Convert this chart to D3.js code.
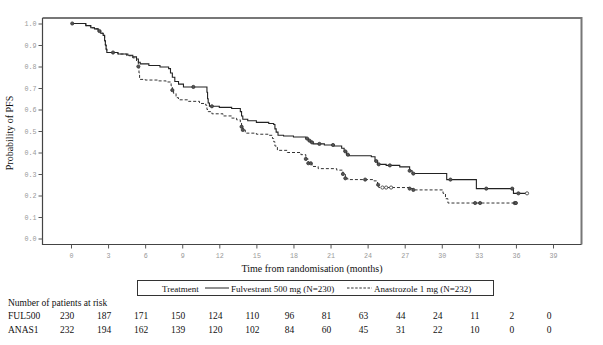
<!DOCTYPE html>
<html><head><meta charset="utf-8">
<script src="https://cdn.jsdelivr.net/npm/d3@7"></script>
<style>body{margin:0;background:#fff}svg{display:block}</style>
</head><body>
<svg id="c" width="603" height="345"></svg>
<script>
// ---- data ----
const months = d3.range(0, 40, 3);
const yTicks = d3.range(0, 1.01, 0.1);
const seriesNames = ["Fulvestrant 500 mg (N=230)", "Anastrozole 1 mg (N=232)"];
const riskLabels = ["FUL500", "ANAS1"];
const riskFUL = [230, 187, 171, 150, 124, 110, 96, 81, 63, 44, 24, 11, 2, 0];
const riskANA = [232, 194, 162, 139, 120, 102, 84, 60, 45, 31, 22, 10, 0, 0];
// KM steps: [time (months), survival after event]
const fulSteps = [[0,1],[1.2,0.99],[1.6,0.98],[1.9,0.975],[2.2,0.965],[2.4,0.955],[2.6,0.945],[2.72,0.92],[2.78,0.90],[2.84,0.88],[2.9,0.865],[3.8,0.858],[4.6,0.852],[5.0,0.845],[5.3,0.835],[5.45,0.82],[5.6,0.812],[6.3,0.805],[7.2,0.798],[7.9,0.79],[8.05,0.77],[8.2,0.75],[8.4,0.73],[8.7,0.718],[9.1,0.705],[11.0,0.68],[11.05,0.65],[11.1,0.63],[11.2,0.615],[12.0,0.61],[13.0,0.605],[13.7,0.59],[13.8,0.57],[13.9,0.555],[14.3,0.548],[15.0,0.54],[16.0,0.535],[16.4,0.53],[16.5,0.51],[16.6,0.495],[16.75,0.48],[17.2,0.477],[18.0,0.472],[19.0,0.465],[19.2,0.455],[19.4,0.447],[19.6,0.44],[20.5,0.435],[21.3,0.43],[21.9,0.42],[22.1,0.405],[22.3,0.39],[22.5,0.385],[24.3,0.38],[24.6,0.36],[24.8,0.345],[25.5,0.34],[26.6,0.333],[27.4,0.315],[27.6,0.302],[30.4,0.274],[32.8,0.232],[35.8,0.21]];
const fulEnd = 36.9;
const anaSteps = [[0,1],[1.2,0.99],[1.6,0.98],[1.9,0.975],[2.2,0.965],[2.4,0.955],[2.6,0.945],[2.72,0.92],[2.78,0.90],[2.84,0.88],[2.9,0.865],[3.8,0.858],[4.5,0.85],[5.0,0.84],[5.3,0.825],[5.45,0.80],[5.5,0.77],[5.55,0.74],[6.0,0.737],[7.0,0.733],[7.7,0.728],[8.1,0.71],[8.2,0.69],[8.3,0.675],[8.5,0.655],[8.7,0.645],[9.5,0.638],[10.4,0.628],[10.9,0.62],[11.0,0.60],[11.1,0.59],[11.4,0.58],[12.3,0.57],[13.0,0.56],[13.4,0.552],[13.7,0.54],[13.8,0.52],[13.9,0.505],[14.1,0.49],[15.0,0.485],[16.0,0.48],[16.3,0.465],[16.4,0.45],[16.5,0.43],[16.7,0.41],[17.5,0.40],[18.6,0.39],[19.0,0.37],[19.2,0.35],[19.5,0.335],[20.0,0.325],[21.5,0.318],[22.0,0.30],[22.2,0.28],[22.4,0.274],[24.5,0.268],[24.8,0.25],[24.9,0.237],[27.4,0.232],[27.7,0.226],[30.1,0.21],[30.3,0.185],[30.5,0.165]];
const anaEnd = 36.05;
// censor times
const fulCensor = [0.1, 2.3, 3.4, 9.9, 11.4, 19.1, 19.3, 19.5, 20.1, 21.2, 22.2, 22.4, 24.7, 24.9, 25.8, 27.4, 27.7, 30.7, 33.6, 35.7, 36.2];
const fulCensorOpen = [36.9];
const anaCensor = [5.45, 8.2, 13.8, 13.9, 19.0, 19.2, 19.4, 22.0, 22.2, 23.8, 24.85, 27.4, 27.7, 32.7, 33.1, 35.9, 36.0];
const anaCensorOpen = [25.2, 25.5, 25.9];

// ---- layout ----
const svg = d3.select("#c");
const L = 42.5, R = 581.5, T = 18, B = 244.5;
const x = d3.scaleLinear().domain([0, 39]).range([71, 553]);
const y = d3.scaleLinear().domain([0, 1]).range([238.5, 23.5]);
const serif = "'Liberation Serif','Times New Roman',serif";
const mono = "'Liberation Mono','DejaVu Sans Mono',monospace";

// frame
svg.append("path").attr("d", `M${L},${T}H${R}V${B}`).attr("fill","none").attr("stroke","#777").attr("stroke-width",2);
svg.append("path").attr("d", `M${L},${T}V${B}H${R}`).attr("fill","none").attr("stroke","#444").attr("stroke-width",1.2);

// y axis
const ya = svg.append("g").attr("transform", `translate(${L},0)`)
  .call(d3.axisLeft(y).tickValues(yTicks).tickFormat(d3.format(".1f")).tickSize(4).tickSizeOuter(0));
ya.select(".domain").remove();
ya.selectAll("line").attr("stroke","#555");
ya.selectAll("text").attr("font-family", mono).attr("font-size", 6.7).attr("fill","#999").attr("x",-6);

// x axis
const xa = svg.append("g").attr("transform", `translate(0,${B})`)
  .call(d3.axisBottom(x).tickValues(months).tickSize(4).tickSizeOuter(0));
xa.select(".domain").remove();
xa.selectAll("line").attr("stroke","#555");
xa.selectAll("text").attr("font-family", mono).attr("font-size", 6.7).attr("fill","#999").attr("y", 9);

// titles
svg.append("text").attr("x", 312).attr("y", 272).attr("text-anchor","middle")
  .attr("font-family", serif).attr("font-size", 10).attr("fill","#111").text("Time from randomisation (months)");
svg.append("text").attr("transform","translate(13,133) rotate(-90)").attr("text-anchor","middle")
  .attr("font-family", serif).attr("font-size", 10).attr("fill","#111").text("Probability of PFS");

// curves
function stepVal(steps, t){ let v = steps[0][1]; for (const s of steps){ if (s[0] <= t) v = s[1]; } return v; }
const line = d3.line().x(d => x(d[0])).y(d => y(d[1])).curve(d3.curveStepAfter);
const fulPts = fulSteps.concat([[fulEnd, fulSteps[fulSteps.length-1][1]]]);
const anaPts = anaSteps.concat([[anaEnd, anaSteps[anaSteps.length-1][1]]]);
svg.append("path").attr("d", line(anaPts)).attr("fill","none").attr("stroke","#333").attr("stroke-width",1).attr("stroke-dasharray","3,2");
svg.append("path").attr("d", line(fulPts)).attr("fill","none").attr("stroke","#222").attr("stroke-width",1.1);

function marks(times, steps, open){
  svg.append("g").selectAll("circle").data(times).join("circle")
    .attr("cx", d => x(d)).attr("cy", d => y(stepVal(steps, d))).attr("r", 1.6)
    .attr("fill", open ? "#fff" : "#555").attr("stroke","#333").attr("stroke-width",0.8);
}
marks(fulCensor, fulSteps, false);
marks(fulCensorOpen, fulSteps, true);
marks(anaCensor, anaSteps, false);
marks(anaCensorOpen, anaSteps, true);

// legend
const lg = svg.append("g");
lg.append("rect").attr("x",137.5).attr("y",280.5).attr("width",356).attr("height",15).attr("fill","none").attr("stroke","#333").attr("stroke-width",1);
lg.append("text").attr("x",162).attr("y",291.5).attr("font-family",serif).attr("font-size",9).attr("fill","#111").text("Treatment");
lg.append("line").attr("x1",205).attr("x2",229).attr("y1",288).attr("y2",288).attr("stroke","#222").attr("stroke-width",1);
lg.append("text").attr("x",231).attr("y",291.5).attr("font-family",serif).attr("font-size",9).attr("fill","#111").text(seriesNames[0]);
lg.append("line").attr("x1",347).attr("x2",372).attr("y1",288).attr("y2",288).attr("stroke","#333").attr("stroke-width",1).attr("stroke-dasharray","2.5,1.6");
lg.append("text").attr("x",374).attr("y",291.5).attr("font-family",serif).attr("font-size",9).attr("fill","#111").text(seriesNames[1]);

// risk table
svg.append("text").attr("x",8).attr("y",306).attr("font-family",serif).attr("font-size",9.5).attr("fill","#111").text("Number of patients at risk");
[riskFUL, riskANA].forEach((row, i) => {
  const yy = 319 + i * 13.5;
  svg.append("text").attr("x",8).attr("y",yy).attr("font-family",serif).attr("font-size",9.5).attr("fill","#111").text(riskLabels[i]);
  svg.append("g").selectAll("text").data(row).join("text")
    .attr("x", (d, j) => x(months[j]) - 4).attr("y", yy).attr("text-anchor","middle")
    .attr("font-family",serif).attr("font-size",9.5).attr("fill","#111").text(d => d);
});
</script>
</body></html>
